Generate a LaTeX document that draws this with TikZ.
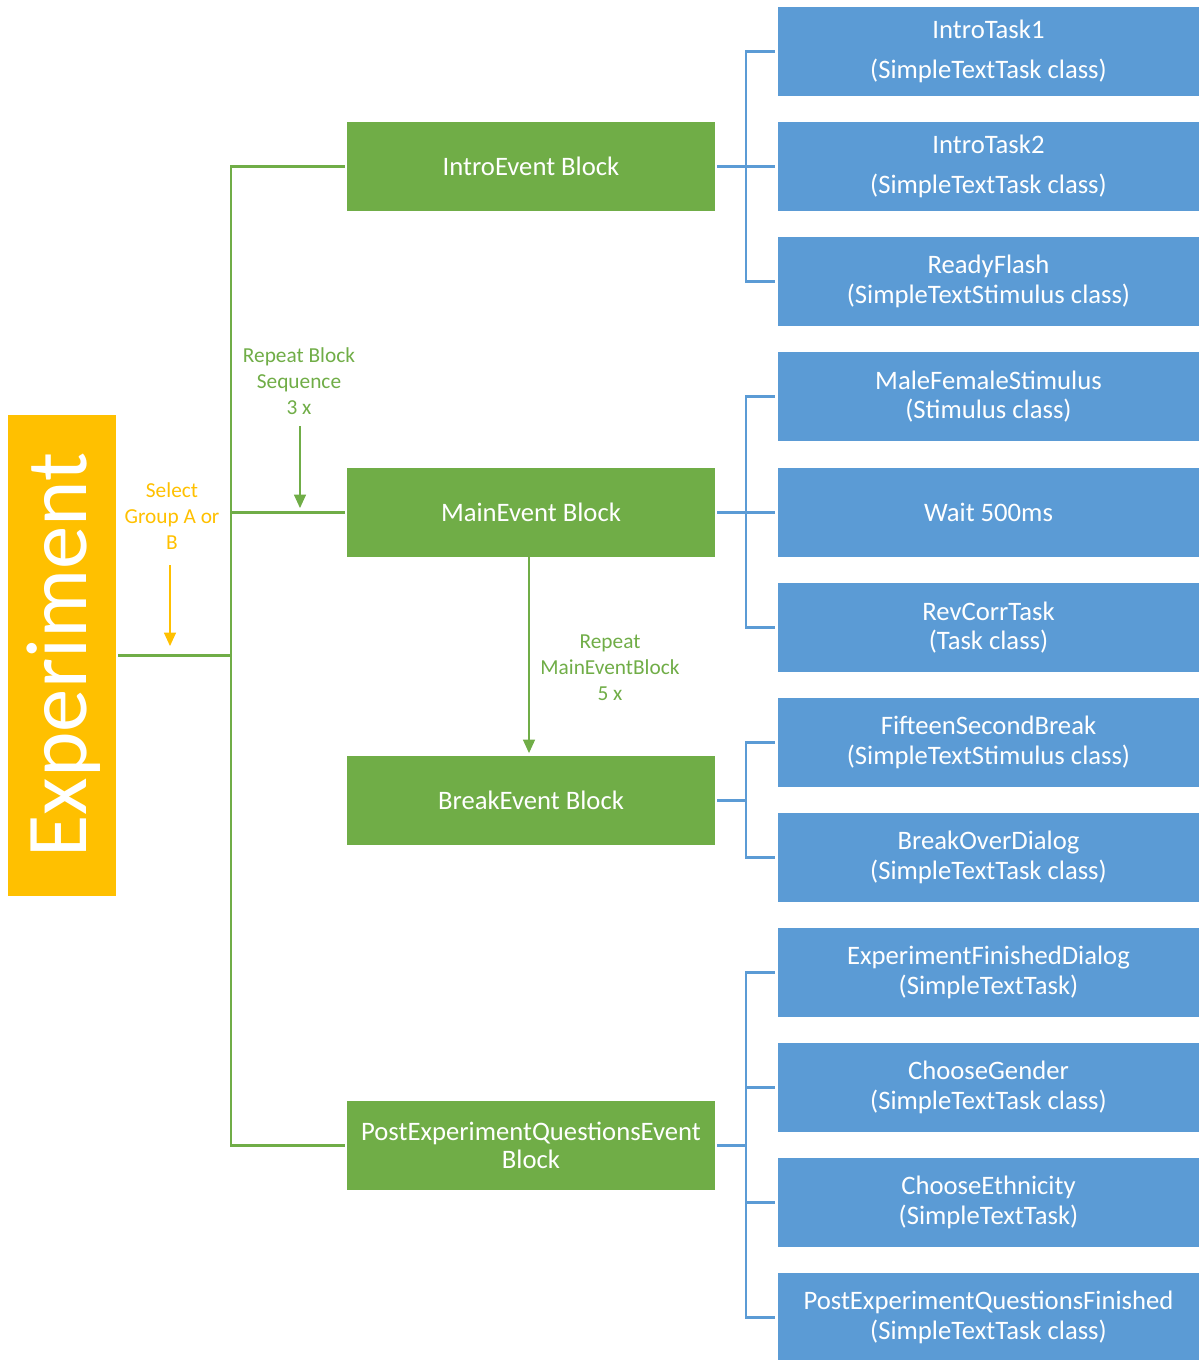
\documentclass[tikz,border=0pt]{standalone}
\usepackage{fontspec}
\setmainfont{Carlito}
\usetikzlibrary{arrows.meta}
\definecolor{cOrange}{HTML}{FFC000}
\definecolor{cGreen}{HTML}{70AD47}
\definecolor{cBlue}{HTML}{5B9BD5}
\begin{document}
\begin{tikzpicture}[x=0.75pt,y=-0.75pt,
  gbox/.style={fill=cGreen,draw=none,text=white,minimum width=276pt,minimum height=66.75pt,inner sep=0pt,align=center,font=\fontsize{20}{21.5}\selectfont},
  bbox/.style={fill=cBlue,draw=none,text=white,minimum width=315.75pt,minimum height=66.75pt,inner sep=0pt,align=center,font=\fontsize{20}{22}\selectfont},
  gline/.style={draw=cGreen,line width=2.2pt},
  bline/.style={draw=cBlue,line width=1.8pt},
  garrow/.style={draw=cGreen,line width=0.8pt,-{Triangle[width=9pt,length=10pt]}},
  oarrow/.style={draw=cOrange,line width=0.8pt,-{Triangle[width=9pt,length=10pt]}},
  glabel/.style={text=cGreen,align=center,font=\fontsize{16}{19.5}\selectfont,inner sep=0pt},
  olabel/.style={text=cOrange,align=center,font=\fontsize{16}{19.5}\selectfont,inner sep=0pt},
]
\useasboundingbox (0,0) rectangle (1199,1360);
% Experiment
\node[fill=cOrange,minimum width=81pt,minimum height=360.75pt,inner sep=0pt] (exp) at (62,655.5) {};
\node[text=white,rotate=90,font=\fontsize{65}{65}\selectfont,inner sep=0pt] (exptext) at (64,655) {Experiment};
% green blocks
\node[gbox] (intro) at (531,166.5) {IntroEvent Block};
\node[gbox] (main) at (531,512.5) {MainEvent Block};
\node[gbox] (brk) at (531,800.5) {BreakEvent Block};
\node[gbox] (post) at (531,1145.5) {PostExperimentQuestionsEvent\\Block};
% blue boxes
\node[bbox,font=\fontsize{20}{30}\selectfont] (t1) at (988.5,51.5) {IntroTask1\\(SimpleTextTask class)};
\node[bbox,font=\fontsize{20}{30}\selectfont] (t2) at (988.5,166.5) {IntroTask2\\(SimpleTextTask class)};
\node[bbox] (t3) at (988.5,281.5) {ReadyFlash\\(SimpleTextStimulus class)};
\node[bbox] (m1) at (988.5,396.5) {MaleFemaleStimulus\\(Stimulus class)};
\node[bbox] (m2) at (988.5,512.5) {Wait 500ms};
\node[bbox] (m3) at (988.5,627.5) {RevCorrTask\\(Task class)};
\node[bbox] (b1) at (988.5,742.5) {FifteenSecondBreak\\(SimpleTextStimulus class)};
\node[bbox] (b2) at (988.5,857.5) {BreakOverDialog\\(SimpleTextTask class)};
\node[bbox] (p1) at (988.5,972.5) {ExperimentFinishedDialog\\(SimpleTextTask)};
\node[bbox] (p2) at (988.5,1087.5) {ChooseGender\\(SimpleTextTask class)};
\node[bbox] (p3) at (988.5,1202.5) {ChooseEthnicity\\(SimpleTextTask)};
\node[bbox] (p4) at (988.5,1317.5) {PostExperimentQuestionsFinished\\(SimpleTextTask class)};
% green trunk
\coordinate (tr) at (231,0);
\draw[gline] ([xshift=-1.5pt]intro.west) -- (intro.west -| tr) -- (post.west -| tr) -- ([xshift=-1.5pt]post.west);
\draw[gline] ([xshift=-1.5pt]main.west) -- (main.west -| tr);
\draw[gline] ([xshift=1.5pt]exp.east) -- (exp.east -| tr);
% blue brackets
\coordinate (sp) at (746,0);
\foreach \g/\a/\b in {intro/t1/t3, main/m1/m3, brk/b1/b2, post/p1/p4}{
  \draw[bline] ([xshift=1.5pt]\g.east) -- (\g.east -| sp);
  \draw[bline] ([xshift=-2.2pt]\a.west) -- (\a.west -| sp) -- (\b.west -| sp) -- ([xshift=-2.2pt]\b.west);
}
\foreach \n in {t2, m2, p2, p3}{
  \draw[bline] (\n.west -| sp) -- ([xshift=-2.2pt]\n.west);
}
% labels and arrows
\node[olabel] (sel) at (172,516) {Select\\Group A or\\B};
\coordinate (oa1) at (170,565);
\coordinate (oa2) at (170,646);
\draw[oarrow] (oa1) -- (oa2);
\node[glabel] (rep) at (299,381) {Repeat Block\\Sequence\\3 x};
\coordinate (ga1) at (300,426);
\coordinate (ga2) at (300,508);
\draw[garrow] (ga1) -- (ga2);
\node[glabel] (rep5) at (610,668) {Repeat\\MainEventBlock\\5 x};
\draw[garrow] ([xshift=-1.5pt]main.south) -- ([xshift=-1.5pt,yshift=2pt]brk.north);
\end{tikzpicture}
\end{document}
